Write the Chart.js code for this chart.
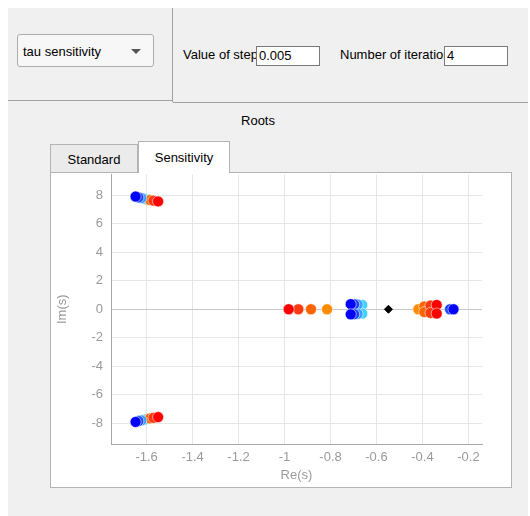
<!DOCTYPE html>
<html>
<head>
<meta charset="utf-8">
<script src="https://cdn.jsdelivr.net/npm/chart.js@4/dist/chart.umd.min.js"></script>
<style>
  body { margin:0; background:#fff; font-family:"Liberation Sans", Arial, sans-serif; font-size:13px; color:#000; }
  #win { position:absolute; left:8px; top:8px; width:520px; height:508px; background:#f0f0f0; }
  .abs { position:absolute; }
  #combo { left:9px; top:26px; width:137px; height:33px; border:1px solid #adadad; border-radius:3px;
           background:#f7f7f7; box-sizing:border-box; }
  #combo span { position:absolute; left:5px; top:9px; }
  #combo i { position:absolute; right:12px; top:14px; width:0; height:0; border-left:5px solid transparent;
             border-right:5px solid transparent; border-top:5px solid #555; }
  .lbl { overflow:hidden; white-space:nowrap; height:20px; line-height:20px; }
  .inp { height:20px; border:1px solid #7a7a7a; background:#fff; box-sizing:border-box; line-height:18px; padding-left:2px; }
  .tab { border:1px solid #b4b4b4; border-bottom:none; box-sizing:border-box; text-align:center; }
  #pane { left:42px; top:164px; width:462px; height:316px; background:#fff; border:1px solid #b4b4b4; box-sizing:border-box; }
  #roots { position:absolute; left:0; top:-5px; }
</style>
</head>
<body>
<div id="win">
  <div class="abs" style="left:0;top:92px;width:164px;height:1px;background:#a0a0a0"></div>
  <div class="abs" style="left:164px;top:0;width:1px;height:94px;background:#a0a0a0"></div>
  <div class="abs" style="left:165px;top:94px;width:355px;height:1px;background:#a0a0a0"></div>
  <div id="combo" class="abs"><span>tau sensitivity</span><i></i></div>
  <div class="abs lbl" style="left:175px;top:37px;width:73px">Value of step</div>
  <div class="abs inp" style="left:248px;top:38px;width:64px">0.005</div>
  <div class="abs lbl" style="left:332px;top:37px;width:104px">Number of iterations</div>
  <div class="abs inp" style="left:436px;top:38px;width:64px">4</div>
  <div class="abs" style="left:0;top:105px;width:500px;text-align:center">Roots</div>
  <div class="abs tab" style="left:42px;top:136px;width:88px;height:29px;line-height:29px;background:#ebebeb">Standard</div>
  <div id="pane" class="abs">
    <canvas id="roots" width="460" height="319"></canvas>
  </div>
  <div class="abs tab" style="left:130px;top:133px;width:92px;height:32px;line-height:32px;background:#fff">Sensitivity</div>
</div>
<script>
// roots for each tau value: blue = smaller tau, orange/red = larger tau
const nominal = [[-0.548, 0]];
const tauMinus4 = [[-1.648, 7.92], [-1.648, -7.92], [-0.712, 0.36], [-0.712, -0.36], [-0.265, 0]];
const tauMinus3 = [[-1.636, 7.86], [-1.636, -7.86], [-0.697, 0.35], [-0.697, -0.35], [-0.28, 0]];
const tauMinus2 = [[-1.623, 7.81], [-1.623, -7.81], [-0.682, 0.33], [-0.682, -0.33]];
const tauMinus1 = [[-1.61, 7.76], [-1.61, -7.76], [-0.662, 0.3], [-0.662, -0.3]];
const tauPlus1 = [[-1.598, 7.71], [-1.598, -7.71], [-0.815, 0], [-0.418, 0]];
const tauPlus2 = [[-1.585, 7.67], [-1.585, -7.67], [-0.885, 0], [-0.392, 0.2], [-0.392, -0.2]];
const tauPlus3 = [[-1.57, 7.63], [-1.57, -7.63], [-0.94, 0], [-0.365, 0.26], [-0.365, -0.26]];
const tauPlus4 = [[-1.55, 7.58], [-1.55, -7.58], [-0.982, 0], [-0.338, 0.3], [-0.338, -0.3]];
const xTicks = [-1.6, -1.4, -1.2, -1, -0.8, -0.6, -0.4, -0.2];
const yTicks = [-8, -6, -4, -2, 0, 2, 4, 6, 8];

function pts(arr) {
  return arr.map(p => ({x: p[0], y: p[1]}));
}
function ds(arr, color) {
  return {
    data: pts(arr),
    backgroundColor: color,
    borderColor: 'rgba(255,255,255,0.55)',
    borderWidth: 1,
    pointRadius: 5.5,
    pointHoverRadius: 5.5
  };
}

// first dataset is drawn on top
const datasets = [
  {data: pts(nominal), pointStyle: 'rectRot', backgroundColor: '#000', borderColor: '#000', pointRadius: 4},
  ds(tauMinus4, '#0000ff'),
  ds(tauPlus4, '#ff0000'),
  ds(tauMinus3, '#1c44ff'),
  ds(tauPlus3, '#ff3a10'),
  ds(tauMinus2, '#3a9bff'),
  ds(tauPlus2, '#ff6400'),
  ds(tauMinus1, '#3fd0ff'),
  ds(tauPlus1, '#ff8c00')
];

const tickFont = {family: '"Liberation Sans", Arial, sans-serif', size: 13};
const grey = '#9a9a9a';

new Chart(document.getElementById('roots'), {
  type: 'scatter',
  data: {datasets: datasets},
  options: {
    responsive: false,
    animation: false,
    events: [],
    layout: {padding: {top: 0, right: 29, left: 0, bottom: 0}},
    plugins: {legend: {display: false}, tooltip: {enabled: false}},
    scales: {
      x: {
        min: -1.755, max: -0.141,
        afterBuildTicks: s => { s.ticks = xTicks.map(v => ({value: v})); },
        afterFit: s => { s.height = 43; },
        ticks: {color: grey, font: tickFont, padding: 6, callback: v => String(+v.toFixed(2))},
        grid: {color: '#e6e6e6', drawTicks: false},
        border: {color: '#a8a8a8'},
        title: {display: true, text: 'Re(s)', color: grey, font: tickFont, padding: {top: 9}}
      },
      y: {
        min: -9.47, max: 9.47,
        afterBuildTicks: s => { s.ticks = yTicks.map(v => ({value: v})); },
        afterFit: s => { s.width = 60; s.paddingTop = 0; s.paddingBottom = 0; },
        ticks: {color: grey, font: tickFont, padding: 8, callback: v => String(v)},
        grid: {color: c => c.tick && c.tick.value === 0 ? '#c8c8c8' : '#e6e6e6', drawTicks: false},
        border: {color: '#a8a8a8'},
        title: {display: true, text: 'Im(s)', color: grey, font: tickFont, padding: {bottom: 4}}
      }
    }
  }
});
</script>
</body>
</html>
